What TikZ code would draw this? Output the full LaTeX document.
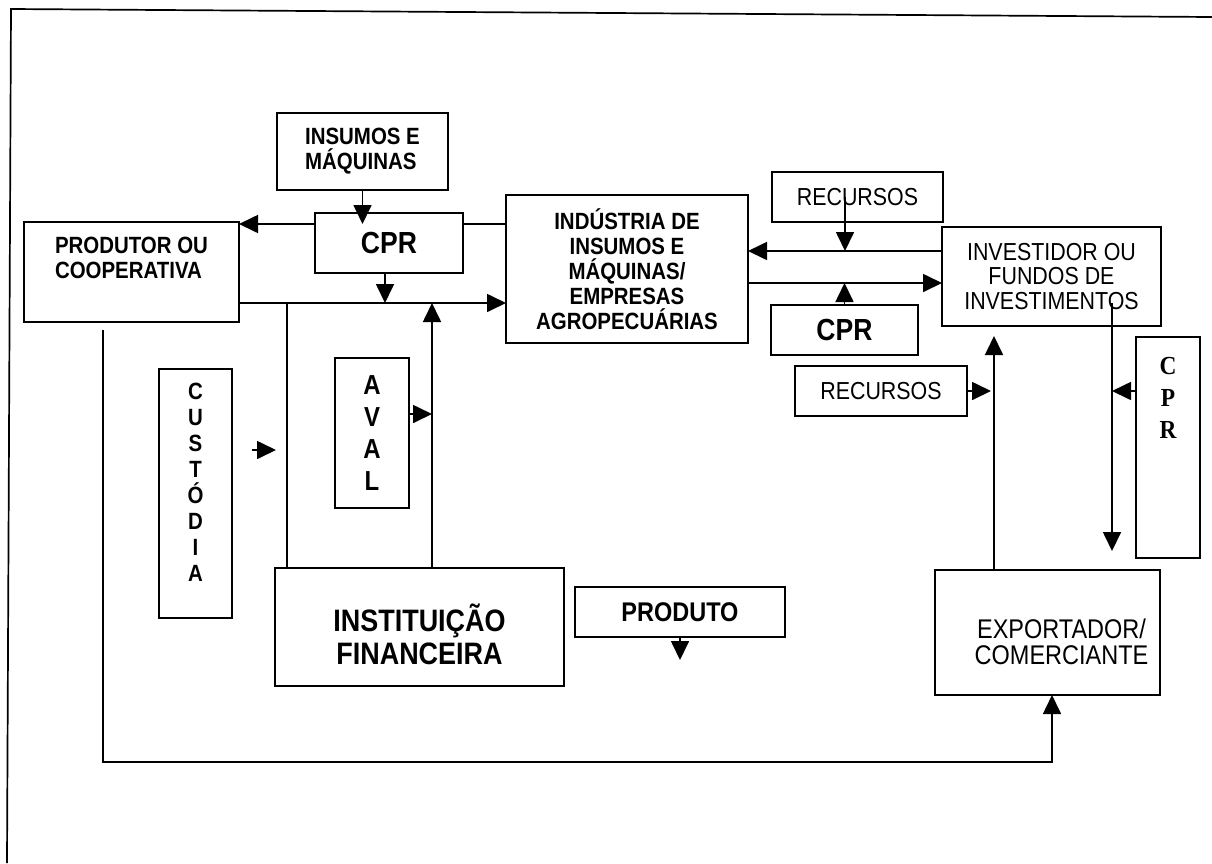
\documentclass[tikz,border=0pt]{standalone}
\usepackage{fontspec}
\setmainfont{Liberation Sans}[FakeStretch=0.87]
\newfontfamily\serifb{Liberation Serif}[FakeStretch=0.9]
\usetikzlibrary{arrows.meta}

\tikzset{
	box/.style={draw, line width=1.7pt, fill=white, inner sep=0pt, outer sep=0pt},
	bold/.style={font=\fontsize{23.5}{25}\selectfont\bfseries},
	plain/.style={font=\fontsize{24.6}{24.5}\selectfont},
	cpr/.style={font=\fontsize{30.5}{30}\selectfont\bfseries},
	line/.style={line width=1.7pt},
	arr/.style={line width=1.7pt, -{Triangle[length=19pt,width=18pt]}},
}

\begin{document}
\begin{tikzpicture}[x=1pt, y=-1pt]
	\useasboundingbox (0,0) rectangle (1212,863);
	\draw[line] (7,863) -- (11,9) -- (1212,17);

	% levels and columns of the connectors
	\coordinate (lvA) at (0,224);
	\coordinate (lvB) at (0,251);
	\coordinate (lvC) at (0,283);
	\coordinate (lvD) at (0,303);
	\coordinate (lvE) at (0,336);
	\coordinate (lvF) at (0,303);
	\coordinate (lvG) at (0,551);
	\coordinate (lvH) at (0,762);
	\coordinate (lvAval) at (0,414);
	\coordinate (colA) at (287,0);
	\coordinate (colB) at (432,0);
	\coordinate (colC) at (845,0);
	\coordinate (colD) at (991,0);
	\coordinate (colE) at (994,0);
	\coordinate (colF) at (1112,0);
	\coordinate (colG) at (103,0);
	\coordinate (colH) at (1052,0);
	\coordinate (colI) at (385,0);
	\coordinate (custA) at (252,450);
	\coordinate (custB) at (276,450);

	% boxes
	\node[box, bold, align=left, minimum width=171pt, minimum height=77pt] (insum) at (362.5,151.5) {INSUMOS E\\MÁQUINAS};
	\node[box, cpr, minimum width=148pt, minimum height=60pt] (cprT) at (389,243) {CPR};
	\node[box, minimum width=215pt, minimum height=100pt,
		label={[bold, align=left, anchor=north, inner sep=0pt, yshift=-15pt]north:PRODUTOR OU\\COOPERATIVA}] (prod) at (131.5,272) {};
	\node[box, bold, align=center, minimum width=242pt, minimum height=148pt] (indus) at (627,269) {INDÚSTRIA DE\\INSUMOS E\\MÁQUINAS/\\EMPRESAS\\AGROPECUÁRIAS};
	\node[box, plain, minimum width=171pt, minimum height=50pt] (recT) at (857.5,197) {RECURSOS};
	\node[box, plain, align=center, minimum width=219pt, minimum height=99pt] (invest) at (1051.5,276.5) {INVESTIDOR OU\\FUNDOS DE\\INVESTIMENTOS};
	\node[box, cpr, minimum width=147pt, minimum height=50pt] (cprM) at (844.5,330) {CPR};
	\node[box, plain, minimum width=172pt, minimum height=50pt] (recB) at (881,391) {RECURSOS};
	\node[box, minimum width=64pt, minimum height=221pt,
		label={[font=\serifb\fontsize{26}{32}\selectfont\bfseries, align=center, anchor=north, inner sep=0pt, yshift=-20pt]north:C\\P\\R}] (cprR) at (1168,447.5) {};
	\node[box, minimum width=73pt, minimum height=249pt,
		label={[font=\fontsize{23.5}{26}\selectfont\bfseries, align=center, anchor=north, inner sep=0pt, yshift=-14pt]north:C\\U\\S\\T\\Ó\\D\\I\\A}] (cust) at (195.5,493.5) {};
	\node[box, font=\fontsize{27.5}{32}\selectfont\bfseries, align=center, minimum width=74pt, minimum height=150pt] (aval) at (372,433) {A\\V\\A\\L};
	\node[box, minimum width=289pt, minimum height=118pt,
		label={[font=\fontsize{31}{33}\selectfont\bfseries, align=center, anchor=north, inner sep=0pt, yshift=-36pt]north:INSTITUIÇÃO\\FINANCEIRA}] (inst) at (419.5,627) {};
	\node[box, font=\fontsize{27}{28}\selectfont\bfseries, minimum width=210pt, minimum height=50pt] (produto) at (680,612) {PRODUTO};
	\node[box, minimum width=225pt, minimum height=125pt,
		label={[font=\fontsize{27}{26}\selectfont, align=center, anchor=north, inner sep=0pt, xshift=14pt, yshift=-49pt]north:EXPORTADOR/\\COMERCIANTE}] (expo) at (1047.5,632.5) {};

	% producer side
	\draw[line] (indus.west |- lvA) -- (cprT.east |- lvA);
	\draw[arr] (cprT.west |- lvA) -- (prod.east |- lvA);
	\draw[arr] (insum.south) -- (insum.south |- lvA);
	\draw[arr] (colI |- cprT.south) -- (colI |- lvD);
	\draw[arr] (prod.east |- lvD) -- (indus.west |- lvD);
	\draw[line] (colA |- lvD) -- (colA |- inst.north);
	\draw[arr] (colB |- inst.north) -- (colB |- lvD);
	\draw[arr] (aval.east |- lvAval) -- (colB |- lvAval);
	\draw[arr] (custA) -- (custB);

	% investor side
	\draw[arr] (invest.west |- lvB) -- (indus.east |- lvB);
	\draw[arr] (colC |- recT.center) -- (colC |- lvB);
	\draw[arr] (indus.east |- lvC) -- (invest.west |- lvC);
	\draw[arr] (cprM.north) -- (cprM.north |- lvC);
	\draw[arr] (recB.east) -- (colD |- recB.east);
	\draw[arr] (colE |- expo.north) -- (colE |- lvE);
	\draw[arr] (colF |- lvF) -- (colF |- lvG);
	\draw[arr] (cprR.west |- recB.east) -- (colF |- recB.east);

	% exporter
	\draw[arr] ([yshift=-8pt]prod.south -| colG) -- (colG |- lvH) -- (colH |- lvH) -- (colH |- expo.south);
	\draw[arr] (produto.south) -- ++(0,23);
\end{tikzpicture}
\end{document}
